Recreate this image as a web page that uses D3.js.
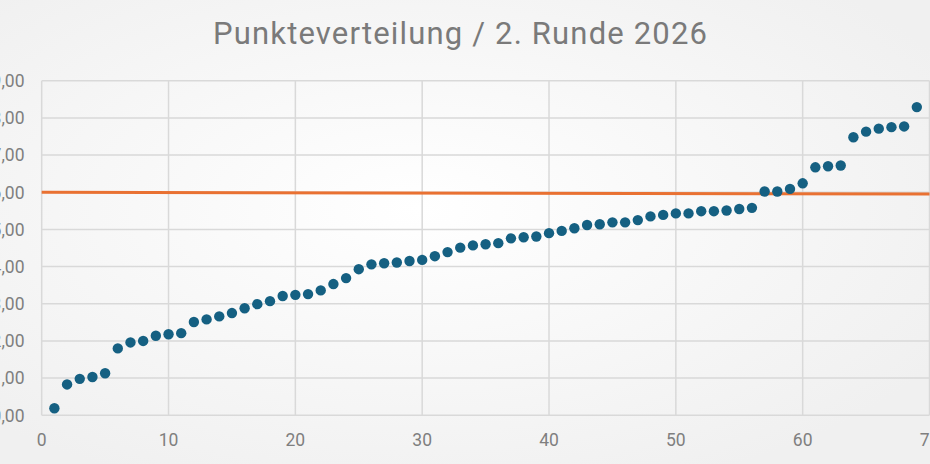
<!DOCTYPE html>
<html>
<head>
<meta charset="utf-8">
<script src="https://cdn.jsdelivr.net/npm/d3@7"></script>
<style>
  html, body { margin: 0; padding: 0; overflow: hidden; }
  body { width: 930px; height: 464px; }
  svg { display: block; }
</style>
</head>
<body>
<div id="chart"></div>
<script>
// Punkte je Teilnehmer, aufsteigend sortiert (Platz 1..69)
const ranks = d3.range(1, 70);
const points = [
  0.19, 0.83, 0.98, 1.03, 1.13, 1.80, 1.96, 2.00, 2.14, 2.18,
  2.21, 2.51, 2.58, 2.66, 2.75, 2.88, 2.99, 3.07, 3.21, 3.24,
  3.26, 3.36, 3.53, 3.69, 3.93, 4.06, 4.09, 4.11, 4.15, 4.18,
  4.28, 4.39, 4.51, 4.57, 4.60, 4.63, 4.76, 4.79, 4.81, 4.90,
  4.96, 5.03, 5.12, 5.14, 5.19, 5.19, 5.25, 5.35, 5.39, 5.43,
  5.43, 5.49, 5.49, 5.51, 5.55, 5.58, 6.02, 6.02, 6.09, 6.24,
  6.67, 6.70, 6.72, 7.48, 7.63, 7.71, 7.75, 7.77, 8.29
];
// orange Linie (Anfang / Ende)
const lineX = [0, 70];
const lineY = [6.00, 5.95];

const xTicks = [0, 10, 20, 30, 40, 50, 60, 70];
const yTicks = [0, 1, 2, 3, 4, 5, 6, 7, 8, 9];

const width = 930, height = 464;

const svg = d3.select('#chart')
  .append('svg')
  .attr('width', width)
  .attr('height', height);

const defs = svg.append('defs');
const grad = defs.append('radialGradient')
  .attr('id', 'bg')
  .attr('cx', '45%').attr('cy', '45%').attr('r', '65%');
grad.append('stop').attr('offset', '0%').attr('stop-color', '#ffffff');
grad.append('stop').attr('offset', '100%').attr('stop-color', '#f0f0f0');

svg.append('rect')
  .attr('width', width).attr('height', height)
  .attr('fill', 'url(#bg)');

const x = d3.scaleLinear().domain([0, 70]).range([41.7, 929.5]);
const y = d3.scaleLinear().domain([0, 9]).range([415.3, 80.7]);

// title
svg.append('text')
  .attr('x', 213)
  .attr('y', 44)
  .attr('textLength', 494)
  .attr('lengthAdjust', 'spacing')
  .attr('font-family', 'Roboto, "Open Sans", sans-serif')
  .attr('font-weight', 400)
  .attr('font-size', 31)
  .attr('fill', '#7a7a7a')
  .text('Punkteverteilung / 2. Runde 2026');

// grid
const grid = svg.append('g').attr('class', 'grid');
grid.selectAll('line.h')
  .data(yTicks)
  .enter().append('line')
  .attr('class', 'h')
  .attr('x1', x(0)).attr('x2', x(70))
  .attr('y1', d => y(d)).attr('y2', d => y(d))
  .attr('stroke', '#d9d9d9')
  .attr('stroke-width', 1.5);

grid.selectAll('line.v')
  .data(xTicks)
  .enter().append('line')
  .attr('class', 'v')
  .attr('x1', d => x(d)).attr('x2', d => x(d))
  .attr('y1', y(0)).attr('y2', y(9))
  .attr('stroke', '#d9d9d9')
  .attr('stroke-width', 1.5);

// axes labels (links vom Bildrand abgeschnitten wie im Original)
const fmt = d => d3.format('.2f')(d).replace('.', ',');

svg.append('g')
  .selectAll('text')
  .data(yTicks)
  .enter().append('text')
  .attr('x', 24.5)
  .attr('y', d => y(d))
  .attr('dy', '0.36em')
  .attr('text-anchor', 'end')
  .attr('font-family', 'Roboto, sans-serif')
  .attr('font-size', 17.5)
  .attr('fill', '#7f7f7f')
  .text(fmt);

svg.append('g')
  .selectAll('text')
  .data(xTicks)
  .enter().append('text')
  .attr('x', d => x(d))
  .attr('y', 446)
  .attr('text-anchor', 'middle')
  .attr('font-family', 'Roboto, sans-serif')
  .attr('font-size', 17.5)
  .attr('fill', '#7f7f7f')
  .text(d => d);

// orange line
svg.append('path')
  .datum(lineX.map((d, i) => [d, lineY[i]]))
  .attr('fill', 'none')
  .attr('stroke', '#e97132')
  .attr('stroke-width', 3)
  .attr('d', d3.line().x(d => x(d[0])).y(d => y(d[1])));

// points
svg.append('g')
  .selectAll('circle')
  .data(points)
  .enter().append('circle')
  .attr('cx', (d, i) => x(ranks[i]))
  .attr('cy', d => y(d))
  .attr('r', 5.2)
  .attr('fill', '#156082');
</script>
</body>
</html>
